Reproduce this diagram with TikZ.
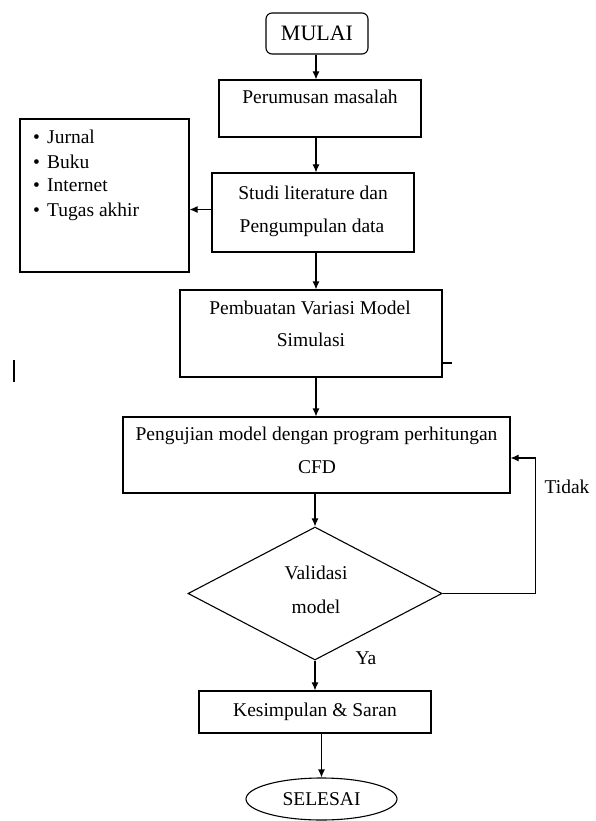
\documentclass[tikz,border=0pt]{standalone}
\usepackage{fontspec}
\setmainfont{Liberation Serif}
\usetikzlibrary{arrows.meta,shapes.geometric}
\begin{document}
\begin{tikzpicture}[x=1pt,y=-1pt,
  font=\fontsize{19.5}{24}\selectfont,
  box/.style={draw, line width=1.1pt, inner sep=0pt, rectangle},
  txt/.style={inner sep=0pt, anchor=base},
  itm/.style={inner sep=0pt, anchor=base west},
  arr/.style={line width=1.1pt, -{Latex[length=8pt,width=7pt]}},
  ln/.style={line width=1.1pt}
]
\useasboundingbox (0,0) rectangle (595,821);
\coordinate (c) at (316,0);

\node[box, rounded corners=6pt, minimum width=102pt, minimum height=41pt] (mulai) at (317,33.5) {\fontsize{22}{26}\selectfont MULAI};

\node[box, minimum width=202pt, minimum height=57pt] (perum) at (320,108.5) {};
\node[txt] (perumT) at (320,104) {Perumusan masalah};

\node[box, minimum width=202pt, minimum height=79pt] (studi) at (313,212.5) {};
\node[txt] (studiA) at (313,199) {Studi literature dan};
\node[txt] (studiB) at (312,232) {Pengumpulan data};

\node[box, minimum width=169pt, minimum height=153pt] (list) at (104.5,195.5) {};
\node[itm] (i1) at (33,144) {\makebox[14pt][l]{•}Jurnal};
\node[itm] (i2) at (33,168) {\makebox[14pt][l]{•}Buku};
\node[itm] (i3) at (33,192) {\makebox[14pt][l]{•}Internet};
\node[itm] (i4) at (33,216) {\makebox[14pt][l]{•}Tugas akhir};

\node[box, minimum width=262pt, minimum height=87pt] (pemb) at (311,333.5) {};
\node[txt] (pembA) at (310,314) {Pembuatan Variasi Model};
\node[txt] (pembB) at (311,346) {Simulasi};

\node[box, minimum width=387pt, minimum height=76pt] (peng) at (316.5,455) {};
\node[txt] (pengA) at (316.5,440) {Pengujian model dengan program perhitungan};
\node[txt] (pengB) at (317,473) {CFD};

\node[draw, diamond, line width=1.1pt, inner sep=0pt, minimum width=254pt, minimum height=133pt] (val) at (315,593.5) {};
\node[txt] (valA) at (316,579) {Validasi};
\node[txt] (valB) at (316,613) {model};

\node[box, minimum width=232pt, minimum height=42pt] (kes) at (315,712) {Kesimpulan \& Saran};

\node[draw, ellipse, line width=1.1pt, inner sep=0pt, minimum width=151pt, minimum height=42pt] (sel) at (321.5,799) {SELESAI};

\node[txt] (tidak) at (567,493) {Tidak};
\node[txt] (ya) at (366,664) {Ya};

% connectors
\draw[arr] (mulai.south -| c) -- (perum.north -| c);
\draw[arr] (perum.south -| c) -- (studi.north -| c);
\draw[arr] ([yshift=3pt]studi.west) -- ([yshift=3pt]studi.west -| list.east);
\draw[arr] (studi.south -| c) -- (pemb.north -| c);
\draw[arr] (pemb.south -| c) -- (peng.north -| c);
\draw[arr] (peng.south -| val.north) -- (val.north);
\draw[arr] (val.south) -- (val.south |- kes.north);
\draw[arr] (kes.south -| sel.north) -- (sel.north);
\draw[arr] (val.east) -- ++(93,0) |- ([yshift=-3pt]peng.east);

% small tick and stray mark
\draw[ln] ([yshift=-29.5pt]pemb.east) -- ++(9,0);
\coordinate (m1) at (14,360);
\coordinate (m2) at (14,382);
\draw[line width=2.6pt] (m1) -- (m2);
\end{tikzpicture}
\end{document}
